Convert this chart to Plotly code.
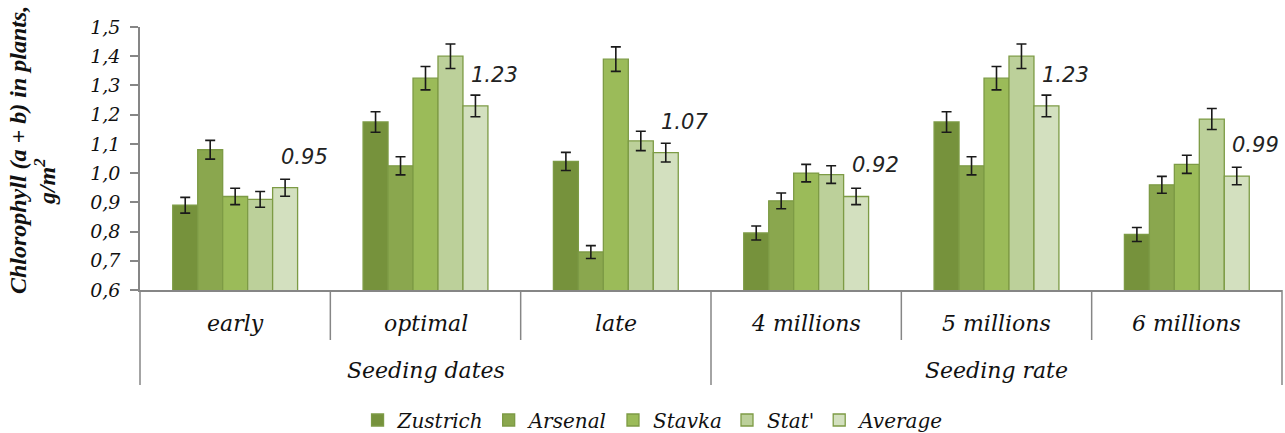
import plotly.graph_objects as go

categories = ["early", "optimal", "late", "4 millions", "5 millions", "6 millions"]
groups = ["Seeding dates", "Seeding rate"]
series_names = ["Zustrich", "Arsenal", "Stavka", "Stat'", "Average"]

zustrich = [0.89, 1.175, 1.04, 0.795, 1.175, 0.79]
arsenal = [1.08, 1.025, 0.73, 0.905, 1.025, 0.96]
stavka = [0.92, 1.325, 1.39, 1.00, 1.325, 1.03]
stat = [0.91, 1.40, 1.11, 0.995, 1.40, 1.185]
average = [0.95, 1.23, 1.07, 0.92, 1.23, 0.99]

err_zustrich = [0.027, 0.035, 0.031, 0.024, 0.035, 0.024]
err_arsenal = [0.032, 0.031, 0.022, 0.027, 0.031, 0.029]
err_stavka = [0.028, 0.040, 0.042, 0.030, 0.040, 0.031]
err_stat = [0.027, 0.042, 0.033, 0.030, 0.042, 0.036]
err_average = [0.029, 0.037, 0.032, 0.028, 0.037, 0.030]

avg_labels = [0.95, 1.23, 1.07, 0.92, 1.23, 0.99]

values = [zustrich, arsenal, stavka, stat, average]
errors = [err_zustrich, err_arsenal, err_stavka, err_stat, err_average]
colors = ["#76923C", "#8AA74E", "#9BBB59", "#BCD09A", "#D3E0BF"]

SERIF = "DejaVu Serif"
ITAL = dict(family=SERIF, style="italic", color="#111")

fig = go.Figure()
for name, vals, errs, col in zip(series_names, values, errors, colors):
    fig.add_trace(go.Bar(
        name=name, x=categories, y=vals,
        marker=dict(color=col, line=dict(color="#7D9B45", width=1.3)),
        error_y=dict(type="data", array=errs, color="#1a1a1a", thickness=1.6, width=5),
    ))

H_PLOT = 263.0
def py(px_below):
    return -px_below / H_PLOT

shapes = []
for k in [1, 2, 4, 5]:
    shapes.append(dict(type="line", xref="x domain", yref="paper", x0=k / 6, x1=k / 6,
                       y0=0, y1=py(50), line=dict(color="#868686", width=1.5)))
for k in [0, 3, 6]:
    shapes.append(dict(type="line", xref="x domain", yref="paper", x0=k / 6, x1=k / 6,
                       y0=0, y1=py(95), line=dict(color="#868686", width=1.5)))

annotations = []
for c in categories:
    annotations.append(dict(x=c, xref="x", y=py(33), yref="paper", text=c, showarrow=False,
                            font=dict(size=22, **ITAL), xanchor="center", yanchor="middle"))
for i, g in enumerate(groups):
    annotations.append(dict(x=0.25 + 0.5 * i, xref="x domain", y=py(80), yref="paper", text=g,
                            showarrow=False, font=dict(size=22, **ITAL),
                            xanchor="center", yanchor="middle"))
for c, v in zip(categories, avg_labels):
    annotations.append(dict(x=c, xref="x", y=v, yref="y", text=f"{v:.2f}", showarrow=False,
                            xshift=69, yshift=31, xanchor="center", yanchor="middle",
                            font=dict(family="DejaVu Sans", size=21, style="italic", color="#222")))
annotations.append(dict(x=(18 - 140) / 1143, xref="paper", y=(290 - 150) / H_PLOT, yref="paper",
                        text="<b><i>Chlorophyll (a + b) in plants,</i></b>", textangle=-90,
                        showarrow=False, xanchor="center", yanchor="middle",
                        font=dict(family="Liberation Serif", size=24, color="#111")))
annotations.append(dict(x=(45 - 140) / 1143, xref="paper", y=(290 - 182) / H_PLOT, yref="paper",
                        text="<b><i>g/m<sup>2</sup></i></b>", textangle=-90,
                        showarrow=False, xanchor="center", yanchor="middle",
                        font=dict(family="Liberation Serif", size=24, color="#111")))

fig.update_layout(
    width=1285, height=433,
    margin=dict(l=140, r=3, t=27, b=143, autoexpand=False),
    paper_bgcolor="white", plot_bgcolor="white",
    barmode="group", bargap=0.344, bargroupgap=0,
    separators=", ",
    showlegend=True,
    legend=dict(orientation="h", x=(654 - 140) / 1143, xanchor="center",
                y=py(130), yanchor="middle", itemwidth=30,
                font=dict(size=20, **ITAL), itemclick=False),
    shapes=shapes, annotations=annotations,
    xaxis=dict(type="category", showline=True, linecolor="#868686", linewidth=1.5,
               showticklabels=False, ticks="", range=[-0.5, 5.5], showgrid=False,
               zeroline=False, automargin=False),
    yaxis=dict(range=[0.6, 1.5], dtick=0.1, tick0=0.6, tickformat=".1f", showline=True,
               linecolor="#868686", linewidth=1.5, ticks="outside", ticklen=8,
               tickcolor="#868686", tickwidth=1.5, showgrid=False, zeroline=False,
               ticklabelstandoff=6, automargin=False,
               tickfont=dict(size=19, **ITAL)),
)

fig.write_html("out.html", config={"displayModeBar": False},
               post_script="document.body.style.margin='0';document.body.style.overflow='hidden';")
